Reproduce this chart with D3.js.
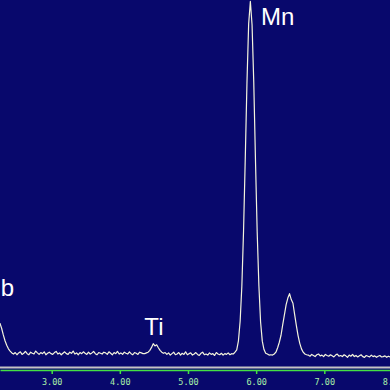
<!DOCTYPE html>
<html>
<head>
	<title>EDS Spectrum</title>
	<script src="https://d3js.org/d3.v7.min.js" charset="utf-8"></script>
	<style>
		body { margin: 0; background: #08086c; }
		svg { display: block; }
	</style>
</head>
<body>
	<svg width="390" height="390"></svg>
	<script>
		// channel calibration (keV)
		var startEnergy = 2.24;
		var channelWidth = 0.025;

		// counts per channel
		var counts = [
			122, 108, 90, 74, 62, 52, 46, 41,
			38, 42, 36, 41, 44, 37, 40, 45, 39, 36, 43, 40, 38, 46, 41, 37, 42, 39, 44, 36, 40, 43,
			39, 37, 42, 45, 38, 41, 36, 40, 44, 39, 37, 43, 40, 46, 38, 41, 36, 42, 39, 44,
			40, 37, 43, 38, 41, 45, 39, 36, 42, 40,
			38, 43, 41, 37, 44, 40, 36, 42, 39, 45, 38, 41, 37, 43, 40, 38, 44, 39, 36, 42,
			40, 37, 43, 41, 39,
			39, 41, 43, 48, 56, 66, 60, 63, 55, 48, 43, 40, 42,
			37, 41, 35, 39, 43, 36, 38, 42, 35, 40, 37, 44, 36, 39, 41, 35, 38, 42, 37, 34,
			40, 43, 36, 38, 35, 41, 37, 39, 34, 42, 38, 36, 40, 35, 39, 37, 41, 36,
			39, 38, 43, 49, 74, 127, 222, 372, 568, 774, 935, 996, 932, 776, 566, 370, 224, 125,
			73, 50, 40, 38, 35,
			36, 35, 38, 43, 55, 70, 89, 118, 145, 172, 190, 202, 186, 176, 145, 115, 88, 67,
			52, 43, 38, 36,
			35, 32, 37, 34, 31, 36, 38, 33, 35, 31, 37, 34, 32, 36, 33, 30, 35, 38, 32, 34,
			31, 36, 33, 29, 35, 32, 37, 31, 34, 30, 33, 36, 31, 29, 34, 32, 30, 35, 31, 33,
			29, 32, 34, 30, 31, 33, 29, 32, 30
		];

		var tickValues = [3, 4, 5, 6, 7, 8];

		// peak labels
		var labelNames = ["Mn", "Ti", "Nb"];
		var labelEnergy = [6.07, 4.50, 2.447];
		var labelCount = [932, 90, 196];
		var labelAnchor = ["start", "middle", "end"];

		var width = 390;
		var axisY = 370;

		var svg = d3.select('svg');

		svg.append('rect')
			.attr('width', width)
			.attr('height', 390)
			.attr('fill', '#08086c');

		const xScale = d3.scaleLinear()
			.domain([2.2414, 7.964])
			.range([0, width]);

		const yScale = d3.scaleLinear()
			.domain([0, 1000])
			.range([368, 0]);

		var points = counts.map(function(c, i) {
			return [startEnergy + i * channelWidth, c];
		});

		// spectrum trace
		svg.append('path')
			.datum(points)
			.attr('fill', 'none')
			.attr('stroke', '#f4f4dc')
			.attr('stroke-width', 1.2)
			.attr('stroke-linejoin', 'round')
			.attr('d', d3.line()
				.x(d => xScale(d[0]))
				.y(d => yScale(d[1])));

		// grey rule above the energy axis
		svg.append('rect')
			.attr('x', 0)
			.attr('y', 366.5)
			.attr('width', width)
			.attr('height', 2)
			.attr('fill', '#c4c4c4');

		const axis = svg.append('g')
			.attr('transform', `translate(0, ${axisY})`)
			.call(d3.axisBottom(xScale)
				.tickValues(tickValues)
				.tickFormat(d3.format('.2f'))
				.tickSize(4)
				.tickSizeOuter(0));

		axis.select('.domain')
			.attr('stroke', '#44e044')
			.attr('stroke-width', 1.5);
		axis.selectAll('.tick line')
			.attr('stroke', '#44e044')
			.attr('stroke-width', 1.5);
		axis.selectAll('.tick text')
			.attr('fill', '#a8f0a8')
			.attr('dy', '0.9em')
			.style('font-family', '"DejaVu Sans Mono", monospace')
			.style('font-size', '8.5px');

		// element labels
		svg.selectAll('.peak-label')
			.data(labelNames)
			.enter()
			.append('text')
			.attr('class', 'peak-label')
			.attr('x', (d, i) => xScale(labelEnergy[i]))
			.attr('y', (d, i) => yScale(labelCount[i]))
			.attr('text-anchor', (d, i) => labelAnchor[i])
			.attr('fill', '#ffffff')
			.style('font-family', '"Liberation Sans", Arial, sans-serif')
			.style('font-size', '24px')
			.text(d => d);
	</script>
</body>
</html>
